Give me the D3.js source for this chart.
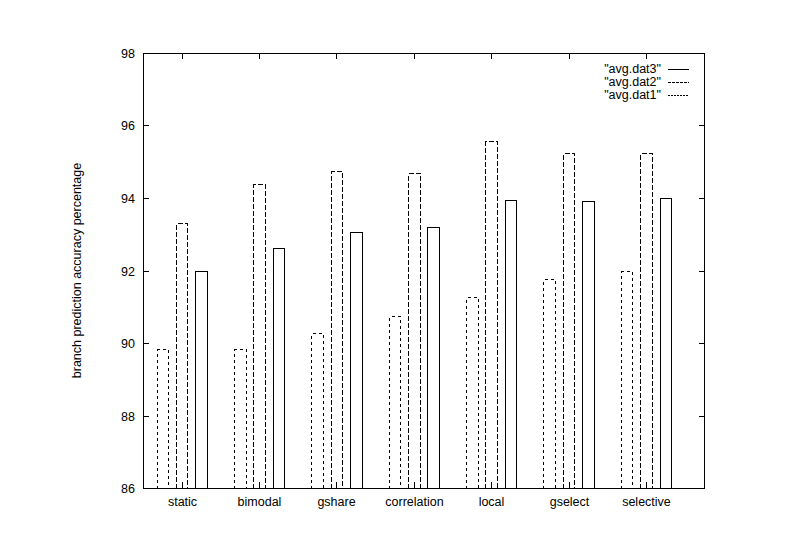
<!DOCTYPE html>
<html>
<head>
<meta charset="utf-8">
<script src="https://cdn.jsdelivr.net/npm/d3@7"></script>
<style>
  html, body { margin: 0; padding: 0; background: #fff; }
  svg { display: block; }
  text { font-family: "Liberation Sans", Arial, sans-serif; font-size: 12.5px; fill: #000; }
</style>
</head>
<body>
<svg id="chart" width="792" height="554"></svg>
<script>
const categories = ["static", "bimodal", "gshare", "correlation", "local", "gselect", "selective"];
const dat1 = [89.83, 89.83, 90.28, 90.75, 91.28, 91.77, 91.99];
const dat2 = [93.31, 94.39, 94.74, 94.69, 95.57, 95.24, 95.24];
const dat3 = [92.00, 92.62, 93.05, 93.20, 93.95, 93.92, 94.00];
const yTicks = [86, 88, 90, 92, 94, 96, 98];
const seriesNames = ['"avg.dat3"', '"avg.dat2"', '"avg.dat1"'];
const yLabel = "branch prediction accuracy percentage";

const svg = d3.select("#chart");
const pLeft = 143, pRight = 704, pTop = 53, pBottom = 488;

const x = d3.scaleLinear().domain([-0.5, 6.75]).range([pLeft, pRight]);
const y = d3.scaleLinear().domain([86, 98]).range([pBottom, pTop]);

const series = [
  { name: seriesNames[2], values: dat1, offset: -0.25, dash: "3,3" },
  { name: seriesNames[1], values: dat2, offset: 0, dash: "5,2" },
  { name: seriesNames[0], values: dat3, offset: 0.25, dash: null }
];
const bw = 0.15;
const tickLen = 6;

// frame
svg.append("rect")
  .attr("x", pLeft + 0.5).attr("y", pTop + 0.5)
  .attr("width", pRight - pLeft).attr("height", pBottom - pTop)
  .attr("fill", "none").attr("stroke", "#000").attr("stroke-width", 1)
  .attr("shape-rendering", "crispEdges");

// y ticks (inward, mirrored)
const gy = svg.append("g");
yTicks.forEach(t => {
  const yy = Math.round(y(t)) + 0.5;
  gy.append("line").attr("x1", pLeft).attr("x2", pLeft + tickLen)
    .attr("y1", yy).attr("y2", yy).attr("stroke", "#000").attr("shape-rendering", "crispEdges");
  gy.append("line").attr("x1", pRight - tickLen + 1).attr("x2", pRight + 1)
    .attr("y1", yy).attr("y2", yy).attr("stroke", "#000").attr("shape-rendering", "crispEdges");
  gy.append("text").attr("x", pLeft - 8).attr("y", yy).attr("dy", "0.35em")
    .attr("text-anchor", "end").text(t);
});

// x ticks
const gx = svg.append("g");
categories.forEach((c, i) => {
  const xx = Math.round(x(i)) + 0.5;
  gx.append("line").attr("x1", xx).attr("x2", xx)
    .attr("y1", pBottom).attr("y2", pBottom - tickLen).attr("stroke", "#000").attr("shape-rendering", "crispEdges");
  gx.append("line").attr("x1", xx).attr("x2", xx)
    .attr("y1", pTop).attr("y2", pTop + tickLen).attr("stroke", "#000").attr("shape-rendering", "crispEdges");
  gx.append("text").attr("x", xx).attr("y", pBottom + 18)
    .attr("text-anchor", "middle").text(c);
});

// bars (open boxes)
series.forEach(s => {
  svg.append("g").selectAll("path").data(s.values).join("path")
    .attr("d", (v, i) => {
      const x0 = Math.round(x(i + s.offset - bw / 2)) + 0.5;
      const x1 = Math.round(x(i + s.offset + bw / 2)) + 0.5;
      const y0 = pBottom + 0.5;
      const y1 = Math.round(y(v)) + 0.5;
      return `M${x0},${y0}V${y1}H${x1}V${y0}`;
    })
    .attr("fill", "none").attr("stroke", "#000").attr("stroke-width", 1)
    .attr("stroke-dasharray", s.dash)
    .attr("shape-rendering", "crispEdges");
});

// legend
const legend = [
  { name: seriesNames[0], dash: null },
  { name: seriesNames[1], dash: "3,1" },
  { name: seriesNames[2], dash: "2,1" }
];
legend.forEach((l, i) => {
  const ly = 69 + i * 13;
  svg.append("text").attr("x", 661).attr("y", ly).attr("dy", "0.35em")
    .attr("text-anchor", "end").text(l.name);
  svg.append("line").attr("x1", 668).attr("x2", 689)
    .attr("y1", ly + 0.5).attr("y2", ly + 0.5)
    .attr("stroke", "#000").attr("stroke-dasharray", l.dash).attr("shape-rendering", "crispEdges");
});

// y label
svg.append("text")
  .attr("transform", `translate(81,${(pTop + pBottom) / 2}) rotate(-90)`)
  .attr("text-anchor", "middle").text(yLabel);
</script>
</body>
</html>
